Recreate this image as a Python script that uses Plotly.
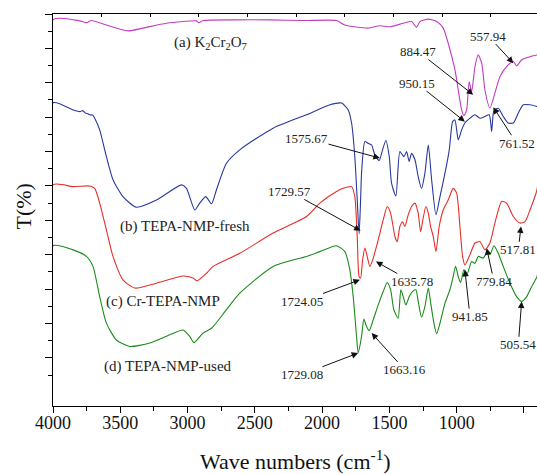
import plotly.graph_objects as go

# ---------------- data (wavenumber cm-1, transmittance arbitrary %) ----------------
wn_a = [4000, 4000, 3801, 3752, 3714, 3603, 3442, 3331, 3157, 2934, 2917, 2885, 2662, 2389, 2141, 1893,
        1831, 1658, 1571, 1496, 1397, 1335, 1298, 1273, 1211, 1149, 1100, 1063, 1013, 963, 946, 926,
        907, 889, 864, 840, 814, 790, 753, 716, 678, 629, 579, 554, 517, 455, 403, 395]
t_a = [-20, 98.3, 98.0, 97.5, 98.1, 96.8, 95.1, 95.9, 97.3, 98.0, 97.5, 98.1, 98.3, 98.3, 98.1, 98.1,
       96.8, 95.9, 96.6, 96.3, 97.3, 97.8, 96.1, 97.8, 98.5, 97.8, 95.9, 91.5, 83.8, 72.1, 70.4, 72.1,
       80.3, 77.4, 84.7, 88.1, 85.7, 77.9, 72.6, 77.0, 81.8, 84.7, 86.2, 84.9, 86.7, 87.6, 88.1, 88.3]

wn_b = [4000, 4000, 3851, 3800, 3780, 3760, 3740, 3727, 3705, 3690, 3653, 3603, 3554, 3480, 3380, 3231,
        3045, 3008, 2946, 2909, 2865, 2822, 2785, 2711, 2612, 2364, 2116, 1942, 1855, 1806, 1781,
        1757, 1739, 1725, 1714, 1707, 1682, 1658, 1632, 1608, 1576, 1551, 1526, 1501, 1484, 1452,
        1422, 1392, 1372, 1353, 1335, 1310, 1286, 1261, 1236, 1211, 1186, 1154, 1124, 1087, 1055,
        1030, 1013, 988, 963, 939, 901, 864, 827, 790, 758, 740, 723, 691, 654, 617, 579, 542, 505,
        455, 405, 400]
t_b = [-20, 74.2, 72.1, 71.6, 71.9, 71.2, 71.0, 70.7, 70.6, 69.7, 66.3, 58.5, 51.8, 46.9, 43.8, 45.9,
       50.3, 49.3, 43.0, 45.0, 46.9, 44.8, 48.9, 56.6, 60.5, 66.8, 70.7, 73.6, 74.1, 72.1, 68.3,
       58.5, 45.9, 36.1, 45.9, 53.7, 62.9, 62.4, 61.9, 59.0, 57.4, 60.5, 63.2, 58.5, 50.8, 47.1,
       60.0, 58.5, 60.0, 57.1, 59.5, 57.6, 52.7, 49.3, 53.7, 61.9, 51.8, 41.6, 46.9, 53.7, 60.5,
       68.7, 69.2, 63.4, 66.3, 68.3, 69.7, 70.7, 69.7, 70.2, 70.7, 65.8, 71.9, 72.6, 70.2, 68.3,
       68.3, 71.2, 73.6, 73.6, 73.1, 73.0]

wn_c = [4000, 4000, 3851, 3727, 3690, 3653, 3603, 3554, 3480, 3392, 3231, 3033, 2959, 2929, 2859, 2810,
        2612, 2364, 2116, 2017, 1893, 1844, 1781, 1757, 1739, 1725, 1714, 1699, 1682, 1665, 1645,
        1620, 1583, 1546, 1516, 1491, 1459, 1442, 1422, 1402, 1385, 1360, 1335, 1310, 1286, 1268,
        1249, 1229, 1211, 1194, 1174, 1154, 1130, 1100, 1063, 1026, 1000, 976, 956, 939, 901, 864,
        827, 790, 753, 716, 666, 629, 579, 530, 492, 455, 403, 395]
t_c = [-20, 50.3, 49.8, 50.0, 49.3, 45.0, 37.2, 29.5, 22.7, 20.3, 21.7, 23.8, 23.2, 22.4, 24.6, 26.6,
       30.4, 36.3, 41.1, 45.0, 48.4, 49.3, 49.8, 46.9, 35.3, 23.6, 23.2, 28.5, 31.9, 29.5, 26.6,
       29.0, 34.3, 40.1, 44.0, 42.1, 35.3, 33.8, 38.2, 39.6, 38.2, 41.6, 44.0, 45.0, 42.1, 36.7,
       40.6, 44.0, 42.1, 38.2, 35.3, 30.9, 38.2, 43.0, 45.9, 49.3, 47.9, 38.2, 29.5, 27.0, 30.0, 33.4,
       33.8, 31.4, 33.4, 39.2, 45.5, 45.0, 41.1, 39.2, 39.6, 43.0, 48.9, 52.0]

wn_d = [4000, 4000, 3851, 3752, 3703, 3653, 3603, 3529, 3430, 3281, 3132, 3033, 2983, 2952, 2885, 2822,
        2711, 2612, 2364, 2116, 2017, 1893, 1831, 1794, 1769, 1744, 1732, 1707, 1690, 1670, 1650,
        1620, 1583, 1546, 1516, 1491, 1467, 1435, 1415, 1397, 1377, 1353, 1323, 1303, 1286, 1261,
        1236, 1211, 1191, 1169, 1149, 1124, 1087, 1050, 1026, 1008, 988, 971, 946, 921, 889, 864,
        840, 803, 777, 753, 723, 691, 654, 604, 554, 517, 480, 443, 403, 395]
t_d = [-20, 32.6, 31.4, 29.5, 26.6, 17.8, 10.1, 5.2, 3.3, 4.3, 6.7, 8.1, 6.2, 4.4, 7.2, 8.6,
       14.0, 18.8, 26.6, 29.5, 30.9, 32.6, 30.9, 25.6, 17.8, 6.2, 1.5, 6.2, 11.3, 9.1, 7.9,
       11.1, 15.4, 19.3, 21.9, 19.8, 14.0, 11.5, 19.8, 17.8, 15.4, 17.8, 19.5, 19.8, 16.4, 11.8,
       14.9, 20.3, 15.4, 10.1, 7.0, 10.1, 15.9, 19.8, 23.6, 26.6, 23.6, 21.9, 25.6, 24.6, 28.0, 27.5,
       29.5, 29.0, 30.4, 30.0, 32.6, 30.4, 26.6, 21.7, 17.8, 16.4, 17.8, 20.7, 23.6, 26.0]

series = [
    ("(a) K2Cr2O7", wn_a, t_a, "#c23cc2"),
    ("(b) TEPA-NMP-fresh", wn_b, t_b, "#27389f"),
    ("(c) Cr-TEPA-NMP", wn_c, t_c, "#e62e28"),
    ("(d) TEPA-NMP-used", wn_d, t_d, "#1a8a1a"),
]

# series labels: text, wavenumber, T
series_labels = [
    ("(a) K<sub>2</sub>Cr<sub>2</sub>O<sub>7</sub>", 2826, 91.6),
    ("(b) TEPA-NMP-fresh", 3021, 38.2),
    ("(c) Cr-TEPA-NMP", 3182, 16.4),
    ("(d) TEPA-NMP-used", 3145, -2.5),
]

# peak labels: text, text centre (wn, T), arrow head (wn, T)
peak_labels = [
    ("557.94", (765, 93.6), (579, 85.7)),
    ("884.47", (1286, 89.1), (877, 76.5)),
    ("950.15", (1298, 79.9), (939, 68.7)),
    ("761.52", (554, 62.4), (728, 72.9)),
    ("1575.67", (2116, 63.9), (1571, 58.1)),
    ("1729.57", (2240, 48.4), (1714, 37.0)),
    ("1724.05", (2153, 16.4), (1719, 22.7)),
    ("1635.78", (1335, 22.2), (1600, 28.0)),
    ("941.85", (901, 12.0), (939, 25.6)),
    ("779.84", (723, 22.2), (777, 31.9)),
    ("517.81", (542, 31.4), (522, 38.2)),
    ("505.54", (542, 3.8), (517, 16.4)),
    ("1729.08", (2153, -4.9), (1732, 1.4)),
    ("1663.16", (1385, -3.5), (1632, 7.2)),
]

x_tick_vals = [4000, 3500, 3000, 2500, 2000, 1500, 1000, 500]
y_major = [0, 10, 20, 30, 40, 50, 60, 70, 80, 90, 100]
y_minor = [-5, 5, 15, 25, 35, 45, 55, 65, 75, 85, 95]

SERIF = "Liberation Serif, Times New Roman, serif"

fig = go.Figure()
for name, xs, ys, col in series:
    fig.add_trace(go.Scatter(x=xs, y=ys, mode="lines", name=name,
                             line=dict(color=col, width=1.1, shape="spline", smoothing=0.6),
                             showlegend=False, hoverinfo="skip"))
# dummy trace to activate the top axis
fig.add_trace(go.Scatter(x=[0, 1], y=[None, None], xaxis="x2", mode="lines",
                         showlegend=False, hoverinfo="skip"))

annotations = []
for txt, x, y in series_labels:
    annotations.append(dict(x=x, y=y, xref="x", yref="y", text=txt, showarrow=False,
                            xanchor="center", yanchor="middle",
                            font=dict(family=SERIF, size=15, color="#222222")))
for txt, (tx, ty), (hx, hy) in peak_labels:
    annotations.append(dict(x=hx, y=hy, xref="x", yref="y", ax=tx, ay=ty, axref="x", ayref="y",
                            text=txt, showarrow=True, arrowhead=2, arrowsize=1.3,
                            arrowwidth=1, arrowcolor="#111111", borderpad=0,
                            font=dict(family=SERIF, size=13, color="#222222")))
# axis titles
annotations.append(dict(x=-0.061, y=0.51, xref="paper", yref="paper", text="T(%)",
                        textangle=-90, showarrow=False, xanchor="center", yanchor="middle",
                        font=dict(family=SERIF, size=22, color="#111111")))
annotations.append(dict(x=0.5, y=-0.137, xref="paper", yref="paper",
                        text="Wave numbers (cm<sup>-1</sup>)", showarrow=False,
                        xanchor="center", yanchor="middle",
                        font=dict(family=SERIF, size=22, color="#111111")))

fig.update_layout(
    width=537, height=474,
    margin=dict(l=53, r=0, t=14, b=68),
    paper_bgcolor="white", plot_bgcolor="white",
    annotations=annotations,
    xaxis=dict(range=[4000, 403], tickvals=x_tick_vals, ticks="outside", ticklen=6,
               tickwidth=1.2, tickcolor="black", showline=True, linecolor="black",
               linewidth=1.4, showgrid=False, zeroline=False, layer="below traces",
               ticklabelstandoff=-6,
               tickfont=dict(family=SERIF, size=18, color="#111111"),
               minor=dict(dtick=250, tick0=0, ticks="outside", ticklen=3.5,
                          tickwidth=1.2, tickcolor="black", showgrid=False)),
    xaxis2=dict(overlaying="x", side="top", range=[0, 9.95], dtick=1, tick0=0,
                ticks="inside", ticklen=3, tickwidth=1, tickcolor="black",
                showline=True, linecolor="black", linewidth=1.3,
                showticklabels=False, showgrid=False, zeroline=False),
    yaxis=dict(range=[-14, 100], tickvals=y_major, ticks="outside", ticklen=7,
               tickwidth=1.2, tickcolor="black", showticklabels=False,
               showline=True, linecolor="black", linewidth=1.4, showgrid=False,
               zeroline=False, layer="below traces",
               minor=dict(tickvals=y_minor, ticks="outside", ticklen=4,
                          tickwidth=1.2, tickcolor="black", showgrid=False)),
)

fig.write_html("out.html")
